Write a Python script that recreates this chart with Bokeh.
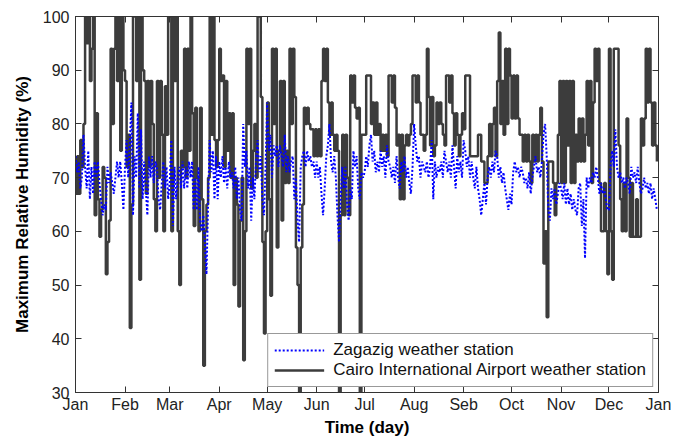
import numpy as np
from bokeh.plotting import figure
from bokeh.models import FixedTicker, LinearAxis, Legend, LegendItem, Range1d
from bokeh.embed import file_html
from bokeh.resources import INLINE

month_labels = ["Jan", "Feb", "Mar", "Apr", "May", "Jun", "Jul", "Aug", "Seb", "Oct", "Nov", "Dec", "Jan"]
month_starts = [0, 31, 59, 90, 120, 151, 181, 212, 243, 273, 304, 334, 365]

cairo_jan = [67, 74, 67, 77, 72, 80, 100, 95, 100, 88, 94, 100, 63, 82, 66, 59, 64, 72, 70, 52, 58, 62, 94, 80, 94, 100, 88, 100, 75, 100, 90]
cairo_feb = [88, 72, 78, 42, 65, 100, 100, 88, 100, 51, 100, 90, 88, 67, 88, 72, 88, 80, 66, 60, 88, 70, 88, 78, 60, 87, 78, 100]
cairo_mar = [100, 60, 100, 88, 100, 60, 50, 75, 72, 94, 70, 94, 75, 100, 82, 61, 83, 70, 60, 83, 66, 35, 60, 65, 70, 100, 78, 100, 77, 72, 77]
cairo_apr = [94, 88, 89, 72, 88, 75, 82, 70, 82, 50, 70, 65, 46, 62, 70, 36, 60, 94, 80, 94, 68, 75, 80, 70, 100, 100, 85, 58, 41, 60]
cairo_may = [84, 66, 48, 94, 80, 94, 57, 75, 88, 62, 88, 69, 75, 69, 94, 80, 94, 85, 57, 50, 30, 57, 65, 83, 80, 83, 80, 79, 79, 74, 79]
cairo_jun = [74, 79, 74, 88, 94, 88, 94, 84, 78, 84, 78, 75, 78, 75, 30, 63, 78, 63, 78, 70, 63, 89, 84, 89, 83, 81, 83, 30, 78, 78]
cairo_jul = [78, 89, 89, 89, 80, 84, 78, 84, 78, 80, 75, 78, 75, 78, 74, 89, 89, 84, 89, 83, 76, 78, 66, 78, 66, 76, 78, 76, 78, 80, 89]
cairo_aug = [89, 84, 89, 84, 78, 78, 75, 78, 94, 85, 76, 85, 74, 76, 84, 80, 84, 80, 78, 76, 89, 89, 84, 89, 82, 76, 82, 78, 74, 78, 82]
cairo_sep = [79, 89, 89, 89, 74, 74, 74, 74, 74, 78, 78, 73, 73, 69, 69, 74, 80, 74, 80, 83, 74, 88, 97, 80, 88, 78, 94, 80, 94, 89]
cairo_oct = [81, 89, 81, 89, 81, 78, 78, 73, 78, 73, 78, 73, 69, 78, 73, 78, 73, 78, 83, 73, 54, 60, 44, 73, 73, 73, 69, 63, 69, 78, 88]
cairo_nov = [69, 88, 69, 88, 76, 88, 69, 88, 69, 78, 73, 81, 73, 81, 73, 78, 88, 76, 88, 69, 84, 94, 88, 94, 69, 60, 60, 69, 60, 52]
cairo_dec = [94, 60, 51, 94, 94, 94, 76, 66, 60, 69, 60, 81, 70, 59, 69, 59, 59, 66, 59, 59, 81, 76, 81, 94, 84, 94, 84, 76, 84, 76, 73]

zag_jan = [74, 71, 73, 68, 70, 78, 72, 68, 75, 66, 72, 67, 73, 70, 73, 69, 66, 63, 65, 64, 72, 69, 71, 69, 67, 70, 73, 70, 73, 69, 64]
zag_feb = [72, 77, 70, 76, 84, 63, 74, 70, 82, 68, 79, 66, 73, 68, 63, 74, 70, 74, 69, 73, 72, 66, 64, 69, 73, 68, 72, 66]
zag_mar = [69, 77, 61, 72, 66, 70, 72, 68, 73, 68, 72, 68, 73, 70, 73, 64, 70, 64, 72, 62, 60, 63, 58, 52, 65, 77, 71, 75, 66, 74, 66]
zag_apr = [73, 70, 74, 69, 72, 68, 73, 70, 71, 68, 72, 66, 70, 64, 62, 80, 72, 75, 68, 72, 62, 70, 66, 73, 77, 71, 74, 66, 63, 72]
zag_may = [84, 75, 78, 70, 76, 74, 76, 72, 76, 74, 72, 78, 71, 74, 71, 73, 74, 66, 70, 62, 58, 72, 74, 75, 72, 75, 73, 74, 72, 73, 70]
zag_jun = [73, 70, 72, 67, 63, 68, 74, 76, 80, 73, 71, 74, 70, 63, 58, 66, 72, 68, 72, 65, 62, 68, 66, 75, 72, 74, 68, 66, 71, 70]
zag_jul = [71, 74, 72, 76, 78, 73, 75, 71, 73, 71, 75, 72, 74, 70, 76, 73, 72, 70, 72, 69, 74, 70, 68, 73, 71, 74, 70, 72, 69, 67, 72]
zag_aug = [80, 76, 73, 74, 70, 73, 72, 71, 73, 70, 72, 77, 66, 73, 70, 72, 71, 73, 70, 75, 73, 71, 73, 70, 76, 72, 68, 74, 71, 73, 70]
zag_sep = [77, 75, 72, 74, 70, 73, 70, 68, 72, 68, 66, 63, 66, 69, 65, 70, 72, 70, 73, 71, 75, 74, 70, 72, 69, 71, 68, 66, 64, 67]
zag_oct = [65, 71, 73, 71, 72, 70, 72, 71, 69, 70, 68, 71, 67, 70, 72, 74, 71, 72, 70, 73, 78, 80, 74, 64, 62, 68, 66, 68, 65, 67, 69]
zag_nov = [68, 66, 69, 65, 68, 65, 67, 64, 66, 64, 63, 68, 69, 61, 66, 55, 70, 68, 70, 69, 71, 70, 72, 70, 67, 69, 67, 68, 66, 64]
zag_dec = [64, 72, 75, 72, 79, 72, 70, 71, 69, 70, 68, 70, 69, 67, 72, 70, 71, 69, 72, 69, 67, 68, 70, 68, 69, 67, 69, 66, 68, 66, 64]

cairo = (cairo_jan + cairo_feb + cairo_mar + cairo_apr + cairo_may + cairo_jun +
         cairo_jul + cairo_aug + cairo_sep + cairo_oct + cairo_nov + cairo_dec)
zagazig = (zag_jan + zag_feb + zag_mar + zag_apr + zag_may + zag_jun +
           zag_jul + zag_aug + zag_sep + zag_oct + zag_nov + zag_dec)
days = list(range(len(cairo)))

FONT = "Liberation Sans"
AXC = "#333333"

p = figure(width=688, height=439, output_backend="svg", toolbar_location=None,
           x_range=Range1d(0, 365), y_range=Range1d(30, 100),
           min_border_left=75, min_border_right=30, min_border_top=16, min_border_bottom=46)
p.background_fill_color = "white"
p.border_fill_color = "white"
p.xgrid.visible = False
p.ygrid.visible = False
p.outline_line_color = AXC
p.outline_line_width = 1

r_cairo = p.step(days, cairo, mode="after", line_color="#3c3c3c", line_width=2.5)
r_zag = p.line(days, zagazig, line_color="#0000ff", line_width=2, line_dash="2 2")

xt = FixedTicker(ticks=month_starts)
yt = FixedTicker(ticks=[30, 40, 50, 60, 70, 80, 90, 100])

def style(ax, labels=True):
    ax.axis_line_color = AXC
    ax.major_tick_line_color = AXC
    ax.major_tick_in = 6
    ax.major_tick_out = 0
    ax.minor_tick_line_color = None
    ax.major_label_text_font = FONT
    ax.major_label_text_font_size = "16px"
    ax.major_label_text_color = "#222222"
    ax.axis_label_text_font = FONT
    ax.axis_label_text_font_size = "17px"
    ax.axis_label_text_font_style = "bold"
    ax.axis_label_text_color = "black"
    if not labels:
        ax.major_label_text_color = None
        ax.major_label_standoff = 0

xa = p.xaxis[0]
xa.ticker = xt
xa.major_label_overrides = {t: l for t, l in zip(month_starts, month_labels)}
xa.axis_label = "Time (day)"
xa.major_label_standoff = 3
xa.axis_label_standoff = 2
style(xa)

ya = p.yaxis[0]
ya.ticker = yt
ya.axis_label = "Maximum Relative Humidity (%)"
ya.major_label_standoff = 6
ya.axis_label_standoff = 8
style(ya)

top = LinearAxis(ticker=xt)
style(top, labels=False)
p.add_layout(top, "above")
right = LinearAxis(ticker=yt)
style(right, labels=False)
p.add_layout(right, "right")

legend = Legend(items=[LegendItem(label="Zagazig weather station", renderers=[r_zag]),
                       LegendItem(label="Cairo International Airport weather station", renderers=[r_cairo])],
                location="bottom_right")
legend.margin = 5
legend.padding = 6
legend.spacing = 0
legend.glyph_width = 50
legend.glyph_height = 20
legend.label_standoff = 9
legend.label_text_font = FONT
legend.label_text_font_size = "17px"
legend.label_text_color = "#111111"
legend.border_line_color = AXC
legend.border_line_width = 1
legend.background_fill_color = "white"
legend.background_fill_alpha = 1
p.add_layout(legend)

open("out.html", "w").write(file_html(p, INLINE))
